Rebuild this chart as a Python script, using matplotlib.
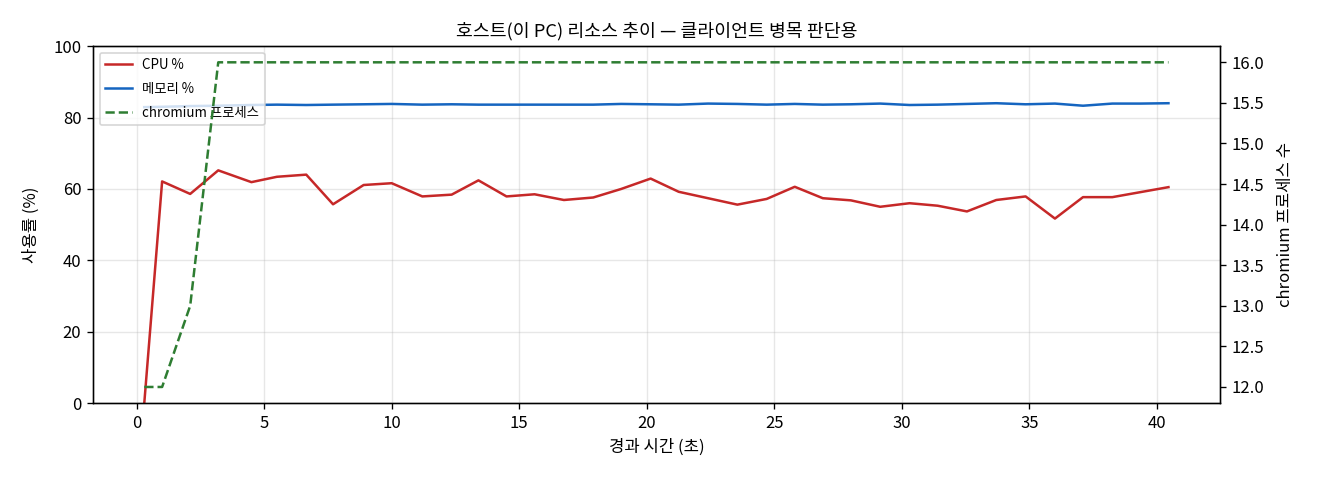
import matplotlib
matplotlib.use('Agg')
import matplotlib.pyplot as plt

plt.rcParams['font.family'] = ['Noto Sans CJK KR', 'DejaVu Sans']
plt.rcParams['axes.unicode_minus'] = False

# 경과 시간 (초)
t = [0.3, 1.0, 2.1, 3.2, 4.5, 5.5, 6.65, 7.7, 8.9, 10.0, 11.2, 12.35, 13.4,
     14.5, 15.6, 16.75, 17.9, 19.0, 20.15, 21.25, 22.4, 23.55, 24.7, 25.8,
     26.9, 28.0, 29.15, 30.3, 31.4, 32.55, 33.7, 34.85, 36.0, 37.1, 38.25,
     39.35, 40.45]

cpu = [0.0, 62.1, 58.6, 65.2, 61.9, 63.4, 64.0, 55.7, 61.1, 61.6, 57.9, 58.4,
       62.4, 57.9, 58.5, 56.9, 57.6, 60.0, 62.9, 59.2, 57.4, 55.6, 57.2, 60.6,
       57.4, 56.8, 55.0, 56.0, 55.3, 53.7, 56.9, 57.9, 51.7, 57.7, 57.7, 59.1,
       60.5]

mem = [82.9, 83.0, 83.2, 83.3, 83.5, 83.6, 83.5, 83.6, 83.7, 83.8, 83.6, 83.7,
       83.6, 83.6, 83.6, 83.6, 83.6, 83.8, 83.7, 83.6, 83.9, 83.8, 83.6, 83.8,
       83.6, 83.7, 83.9, 83.5, 83.6, 83.8, 84.0, 83.7, 83.9, 83.3, 83.9, 83.9,
       84.0]

procs = [12, 12, 13] + [16] * 34

fig, ax = plt.subplots(figsize=(11, 4), dpi=120)
fig.subplots_adjust(left=0.0705, right=0.924, top=0.904, bottom=0.16)

l1, = ax.plot(t, cpu, color='#c62828', lw=1.5, label='CPU %')
l2, = ax.plot(t, mem, color='#1565c0', lw=1.5, label='메모리 %')
ax.set_ylim(0, 100)
ax.set_xlabel('경과 시간 (초)', fontsize=10)
ax.set_ylabel('사용률 (%)', fontsize=10, labelpad=8)
ax.grid(alpha=0.3)
ax.tick_params(labelsize=10)

ax2 = ax.twinx()
l3, = ax2.plot(t, procs, color='#2e7d32', lw=1.5, ls='--', label='chromium 프로세스')
ax2.set_ylabel('chromium 프로세스 수', fontsize=10, labelpad=8)
ax2.tick_params(labelsize=10)

ax.legend(handles=[l1, l2, l3], loc='upper left', fontsize=8, labelspacing=0.75)
ax.set_title('호스트(이 PC) 리소스 추이 — 클라이언트 병목 판단용', fontsize=11)

fig.savefig('out.png')
